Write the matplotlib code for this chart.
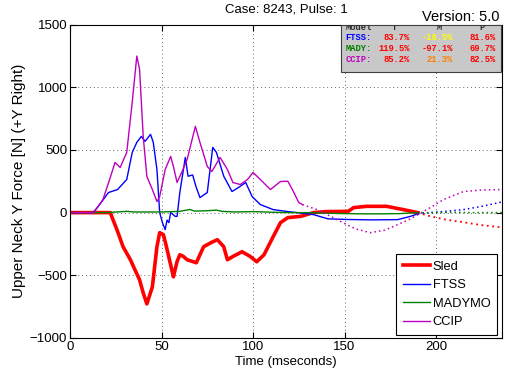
import matplotlib
matplotlib.use("Agg")
import matplotlib.pyplot as plt
from matplotlib.patches import Rectangle

plt.rcParams['font.family'] = ['Liberation Sans', 'DejaVu Sans']

# --- data ---
sled_t = [0, 22, 26, 29, 33, 38, 40, 42, 45, 47.5, 49, 51, 52.5, 56, 56.5, 58.5, 60, 62, 64,
          67, 69, 73, 77, 80.5, 84, 86, 89, 94, 98.5, 102, 106, 111, 115, 119, 126, 133,
          140, 152, 155, 162, 173, 182, 190]
sled_f = [0, 0, -150, -272, -376, -536, -640, -728, -592, -272, -160, -176, -260, -480, -512,
          -390, -336, -350, -376, -390, -400, -272, -240, -216, -272, -376, -350, -312, -350,
          -392, -336, -192, -80, -40, -30, 0, 8, 10, 40, 50, 50, 24, 0]
sled_t_end = [190, 197, 205, 215, 225, 236]
sled_f_end = [0, -30, -55, -77, -100, -118]

ftss_t = [0, 12.6, 16, 21, 26, 31, 34, 36.5, 39, 41, 44, 45.5, 47.5, 49, 50.5, 52, 53, 54,
          55, 57.5, 58.5, 60, 63, 64.5, 67, 69, 71, 75, 78, 80, 84, 88.5, 92, 96, 99.5, 104,
          111, 118, 124, 133, 141, 152, 165, 179, 186, 190]
ftss_f = [0, 0, 60, 160, 184, 264, 480, 560, 608, 568, 624, 560, 344, 0, -80, -136, -60, -80,
          0, -30, -30, 160, 440, 290, 300, 200, 120, 160, 520, 480, 290, 168, 200, 240, 128, 64,
          24, 10, 0, -16, -50, -55, -58, -56, -30, -10]
ftss_t_end = [190, 197, 205, 215, 225, 236]
ftss_f_end = [-10, 0, 10, 24, 50, 85]

mady_t = [0, 20, 31, 35, 50, 60, 65.5, 68, 75, 80, 83, 90, 100, 110, 120, 130, 140, 150, 160,
          170, 180, 190]
mady_f = [0, 0, 10, 5, 5, 10, 25, 12, 15, 20, 10, 5, 8, 3, 0, 0, -5, -8, -10, -10, -8, 0]
mady_t_end = [190, 200, 210, 220, 236]
mady_f_end = [0, 0, 2, 0, 0]

ccip_t = [0, 13, 18, 22, 24.6, 27.4, 31, 34, 36.5, 38, 40, 42, 45, 47.5, 49, 52, 55, 56.5,
          58.5, 61, 64, 68.5, 71, 75, 77.5, 82, 86, 89, 93, 97, 100, 104, 109.5, 115, 119,
          121.5, 125, 127]
ccip_f = [0, 0, 104, 280, 400, 360, 480, 880, 1248, 1144, 608, 288, 184, 88, 128, 344, 448,
          368, 240, 320, 424, 688, 560, 368, 328, 440, 344, 240, 224, 264, 320, 264, 184, 248,
          250, 184, 80, 64]
ccip_t_end = [127, 135, 148, 156, 164, 172, 179, 186, 192, 198, 204, 215, 225, 236]
ccip_f_end = [64, 24, -72, -130, -160, -140, -96, -50, 0, 50, 104, 168, 180, 184]

models = ['FTSS:', 'MADY:', 'CCIP:']
score_t = ['83.7%', '119.5%', '85.2%']
score_m = ['-18.5%', '-97.1%', '21.3%']
score_p = ['81.6%', '69.7%', '82.5%']
score_m_colors = ['#ffff00', '#ff0000', '#ff8000']

RED = '#ff0000'
BLUE = '#0000ff'
GREEN = '#008000'
MAGENTA = '#bf00bf'

fig = plt.figure(figsize=(5.05, 3.83), dpi=100)
ax = fig.add_axes([0.1386, 0.1175, 0.8554, 0.8185])

ax.plot(sled_t, sled_f, color=RED, lw=2.6, label='Sled')
ax.plot(ftss_t, ftss_f, color=BLUE, lw=1.0, label='FTSS')
ax.plot(mady_t, mady_f, color=GREEN, lw=1.0, label='MADYMO')
ax.plot(ccip_t, ccip_f, color=MAGENTA, lw=1.0, label='CCIP')
dots = (0, (1, 2))
ax.plot(sled_t_end, sled_f_end, color=RED, lw=1.3, ls=dots)
ax.plot(ftss_t_end, ftss_f_end, color=BLUE, lw=1.1, ls=dots)
ax.plot(mady_t_end, mady_f_end, color=GREEN, lw=1.1, ls=dots)
ax.plot(ccip_t_end, ccip_f_end, color=MAGENTA, lw=1.1, ls=dots)

ax.set_xlim(0, 236)
ax.set_ylim(-1000, 1500)
ax.set_xticks([0, 50, 100, 150, 200])
ax.set_yticks([-1000, -500, 0, 500, 1000, 1500])
ax.tick_params(direction='in', top=True, right=True, length=4, labelsize=9.5, pad=2)
ax.grid(True, ls=(0, (1, 3)), color='#666666', lw=0.7)
for s in ax.spines.values():
    s.set_linewidth(0.8)

ax.set_xlabel('Time (mseconds)', fontsize=9.5, labelpad=2)
ax.set_ylabel('Upper Neck Y Force [N] (+Y Right)', fontsize=11, labelpad=3)
ax.set_title('Case: 8243, Pulse: 1', fontsize=9.5, pad=9)

leg = ax.legend(loc='lower right', bbox_to_anchor=(0.988, 0.01), borderaxespad=0,
                fontsize=9.3, fancybox=False, framealpha=1, edgecolor='black',
                handlelength=2.1, handletextpad=0.2, labelspacing=0.5, borderpad=0.5)
leg.get_frame().set_linewidth(0.8)

# score table in the upper right corner
ax.add_patch(Rectangle((0.627, 0.8485), 0.37, 0.1515, transform=ax.transAxes,
                       facecolor='#c8c8c8', edgecolor='#404040', lw=0.8, zorder=5))
mono = dict(family='Liberation Mono', fontweight='bold', fontsize=6.3, zorder=6,
            transform=ax.transAxes, va='center')
hdr_y = 0.991
ax.text(0.637, hdr_y, 'Model', color='#303030', ha='left', clip_on=True, **mono)
ax.text(0.752, hdr_y, 'T', color='#303030', ha='center', clip_on=True, **mono)
ax.text(0.854, hdr_y, 'M', color='#303030', ha='center', clip_on=True, **mono)
ax.text(0.954, hdr_y, 'P', color='#303030', ha='center', clip_on=True, **mono)
row_y = [0.957, 0.922, 0.887]
row_colors = [BLUE, GREEN, MAGENTA]
for i in range(3):
    ax.text(0.637, row_y[i], models[i], color=row_colors[i], ha='left', **mono)
    ax.text(0.787, row_y[i], score_t[i], color=RED, ha='right', **mono)
    ax.text(0.887, row_y[i], score_m[i], color=score_m_colors[i], ha='right', **mono)
    ax.text(0.986, row_y[i], score_p[i], color=RED, ha='right', **mono)

fig.text(0.99, 0.955, 'Version: 5.0', fontsize=10.5, ha='right', va='center')

fig.savefig('out.png', dpi=100)
